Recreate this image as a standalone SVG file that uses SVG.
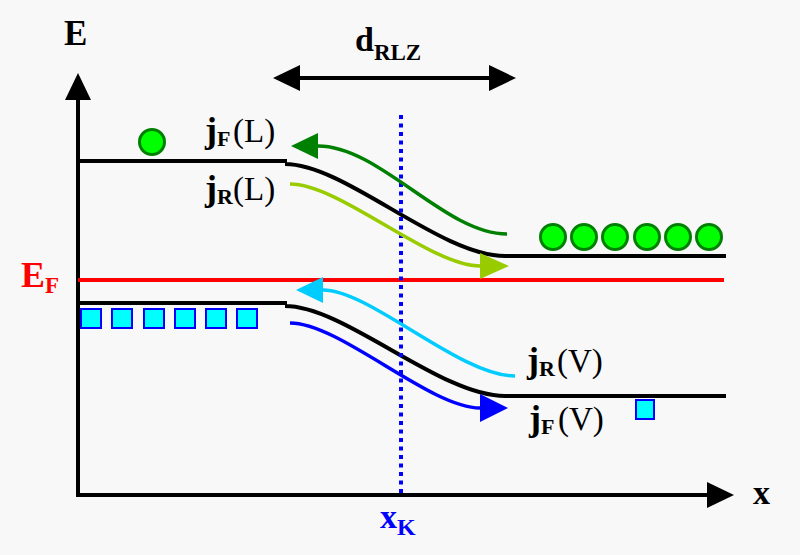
<svg xmlns="http://www.w3.org/2000/svg" width="800" height="555" viewBox="0 0 800 555">
<style>
text{font-family:"Liberation Serif","Times New Roman",serif;font-size:33px;fill:#000}
.b{font-weight:bold}
.j{font-weight:bold;font-size:36px}
.sub{font-size:22px;font-weight:bold}
.ax{stroke:#000;stroke-width:4;fill:none}
.band{stroke:#000;stroke-width:4;fill:none}
.cur{stroke-width:3.5;fill:none}
.el{fill:#00ff00;stroke:#008000;stroke-width:3}
.ho{fill:#00ffff;stroke:#0000ff;stroke-width:2}
</style>
<defs>
<marker id="mk" viewBox="0 0 27 26" refX="0" refY="13" markerWidth="27" markerHeight="26" markerUnits="userSpaceOnUse" orient="auto-start-reverse"><path d="M0,0 L27,13 L0,26 Z" fill="#000"/></marker>
<marker id="mg" viewBox="0 0 27 26" refX="0" refY="13" markerWidth="27" markerHeight="26" markerUnits="userSpaceOnUse" orient="auto-start-reverse"><path d="M0,0 L27,13 L0,26 Z" fill="#008000"/></marker>
<marker id="my" viewBox="0 0 29 26" refX="0" refY="13" markerWidth="29" markerHeight="26" markerUnits="userSpaceOnUse" orient="auto-start-reverse"><path d="M0,0 L29,13 L0,26 Z" fill="#99cc00"/></marker>
<marker id="mc" viewBox="0 0 27 26" refX="0" refY="13" markerWidth="27" markerHeight="26" markerUnits="userSpaceOnUse" orient="auto-start-reverse"><path d="M0,0 L27,13 L0,26 Z" fill="#00ccff"/></marker>
<marker id="mb" viewBox="0 0 28 28" refX="0" refY="14" markerWidth="28" markerHeight="28" markerUnits="userSpaceOnUse" orient="auto-start-reverse"><path d="M0,0 L28,14 L0,28 Z" fill="#0000ff"/></marker>
</defs>
<rect width="800" height="555" fill="#f8f8f8"/>
<g id="axes">
<path class="ax" d="M78,497 V100" marker-end="url(#mk)"/>
<path class="ax" d="M76,495 H707" marker-end="url(#mk)"/>
<text class="b" x="64" y="45" style="font-size:35px">E</text>
<text class="b" x="753" y="504" style="font-size:34px">x</text>
</g>
<g id="fermi-level">
<path d="M78,280 H724" stroke="#ff0000" stroke-width="4" fill="none"/>
<text x="21" y="287" class="b" style="fill:#ff0000;font-size:36px">E<tspan class="sub" dy="6" style="fill:#ff0000;font-size:23px">F</tspan></text>
</g>
<g id="conduction-band">
<path class="band" d="M78,161 H287 M285,164 C345,164 440,256 505,256 H726"/>
</g>
<g id="valence-band">
<path class="band" d="M78,303 H287 M285,306 C345,306 440,396 505,396 H726"/>
</g>
<g id="x-k">
<path d="M401,115 V495" stroke="#0000ff" stroke-width="4" stroke-dasharray="4 4.5" fill="none"/>
<text x="380" y="528" class="b" style="fill:#0000ff;font-size:34px">x<tspan class="sub" dy="7" style="fill:#0000ff;font-size:24px">K</tspan></text>
</g>
<g id="d-rlz">
<path class="ax" d="M300,78 H489" marker-start="url(#mk)" marker-end="url(#mk)"/>
<text x="355" y="51" class="b" style="font-size:34px">d<tspan class="sub" dy="9" style="font-size:23px">RLZ</tspan></text>
</g>
<g id="electrons">
<circle class="el" cx="152" cy="142" r="12.5"/>
<circle class="el" cx="553" cy="237" r="12.5"/>
<circle class="el" cx="584" cy="237" r="12.5"/>
<circle class="el" cx="615" cy="237" r="12.5"/>
<circle class="el" cx="647" cy="237" r="12.5"/>
<circle class="el" cx="678" cy="237" r="12.5"/>
<circle class="el" cx="709" cy="237" r="12.5"/>
</g>
<g id="holes">
<rect class="ho" x="81" y="309" width="20" height="19"/>
<rect class="ho" x="112" y="309" width="20" height="19"/>
<rect class="ho" x="144" y="309" width="20" height="19"/>
<rect class="ho" x="175" y="309" width="20" height="19"/>
<rect class="ho" x="206" y="309" width="20" height="19"/>
<rect class="ho" x="237" y="309" width="20" height="19"/>
<rect class="ho" x="636" y="400" width="18" height="19"/>
</g>
<g id="connectors">
<path class="cur" stroke="#008000" d="M318,146 C380,146 445,234 507,234" marker-start="url(#mg)"/>
<path class="cur" stroke="#99cc00" d="M290,184 C340,184 430,266 480,266" marker-end="url(#my)"/>
<path class="cur" stroke="#00ccff" d="M323,290 C370,290 460,376 515,376" marker-start="url(#mc)"/>
<path class="cur" stroke="#0000ff" d="M290,323 C340,323 430,408 480,408" marker-end="url(#mb)"/>
</g>
<g id="label-jF-L">
<text y="142"><tspan x="205" class="j">j</tspan><tspan class="sub" dy="4">F</tspan><tspan x="233" dy="-4">(L)</tspan></text>
</g>
<g id="label-jR-L">
<text y="200"><tspan x="205" class="j">j</tspan><tspan class="sub" dy="4">R</tspan><tspan x="233" dy="-4">(L)</tspan></text>
</g>
<g id="label-jR-V">
<text y="372"><tspan x="527" class="j">j</tspan><tspan class="sub" dy="4">R</tspan><tspan x="557" dy="-4">(V)</tspan></text>
</g>
<g id="label-jF-V">
<text y="430"><tspan x="529" class="j">j</tspan><tspan class="sub" dy="4">F</tspan><tspan x="558" dy="-4">(V)</tspan></text>
</g>
</svg>
